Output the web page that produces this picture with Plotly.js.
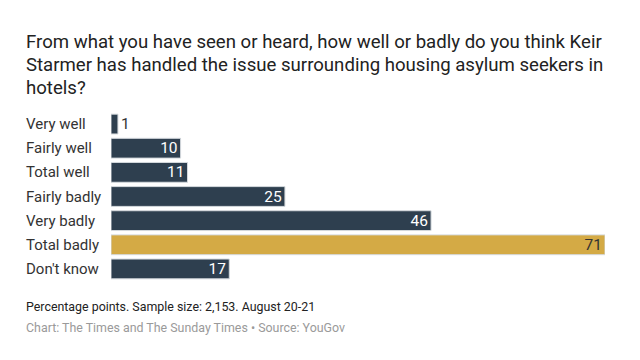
<!DOCTYPE html>
<html>
<head>
<meta charset="utf-8">
<script src="https://cdn.plot.ly/plotly-3.0.1.min.js"></script>
<style>html,body{margin:0;padding:0;background:#fff;}#chart{width:640px;height:360px;}</style>
</head>
<body>
<div id="chart"></div>
<script>
const categories = ["Very well", "Fairly well", "Total well", "Fairly badly", "Very badly", "Total badly", "Don't know"];
const values = [1, 10, 11, 25, 46, 71, 17];
const highlight = "Total badly";
const titleLines = [
  "From what you have seen or heard, how well or badly do you think Keir",
  "Starmer has handled the issue surrounding housing asylum seekers in",
  "hotels?"
];
const noteText = "Percentage points. Sample size: 2,153. August 20-21";
const sourceText = "Chart: The Times and The Sunday Times \u2022 Source: YouGov";

const W = 640, H = 360;
const m = {l: 111, r: 35, t: 112, b: 79};
const pw = W - m.l - m.r, ph = H - m.t - m.b;
const px = x => (x - m.l) / pw;
const py = y => (H - m.b - y) / ph;

const DARK = "#2e3f4f", GOLD = "#d4aa45";
const colors = categories.map(c => c === highlight ? GOLD : DARK);
const textColors = categories.map((c, i) => c === highlight ? "#333333" : (values[i] < 3 ? "#333333" : "#ffffff"));
const textPos = values.map(v => v < 3 ? "outside" : "inside");

const trace = {
  type: "bar",
  orientation: "h",
  y: categories,
  x: values,
  marker: {color: colors, line: {color: "#d5dade", width: 1}},
  text: values.map(String),
  textposition: textPos,
  insidetextanchor: "end",
  textangle: 0,
  constraintext: "none",
  cliponaxis: false,
  textfont: {family: "Roboto, sans-serif", size: 15.5, color: textColors},
  hoverinfo: "none"
};

const annotations = categories.map(c => ({
  xref: "paper", yref: "y", x: px(24), y: c, xanchor: "left", yanchor: "middle",
  text: c, showarrow: false, font: {family: "Roboto, sans-serif", size: 15, color: "#333333"}
}));
titleLines.forEach((t, i) => annotations.push({
  xref: "paper", yref: "paper", x: px(24), y: py(42 + 23 * i), xanchor: "left", yanchor: "middle",
  text: t, showarrow: false, font: {family: "Roboto, sans-serif", size: 18.6, color: "#222222"}
}));
annotations.push({
  xref: "paper", yref: "paper", x: px(24), y: py(306), xanchor: "left", yanchor: "middle",
  text: noteText, showarrow: false, font: {family: "Roboto, sans-serif", size: 12.4, color: "#222222"}
});
annotations.push({
  xref: "paper", yref: "paper", x: px(24), y: py(327), xanchor: "left", yanchor: "middle",
  text: sourceText, showarrow: false, font: {family: "Roboto, sans-serif", size: 12.4, color: "#9a9a9a"}
});

const layout = {
  width: W, height: H,
  margin: m,
  paper_bgcolor: "#ffffff", plot_bgcolor: "#ffffff",
  xaxis: {range: [0, 71], visible: false, fixedrange: true},
  yaxis: {autorange: "reversed", showticklabels: false, showgrid: false, zeroline: false, showline: false, ticks: "", fixedrange: true},
  bargap: 0.18,
  showlegend: false,
  annotations: annotations
};

Plotly.newPlot("chart", [trace], layout, {displayModeBar: false, staticPlot: true});
</script>
</body>
</html>
